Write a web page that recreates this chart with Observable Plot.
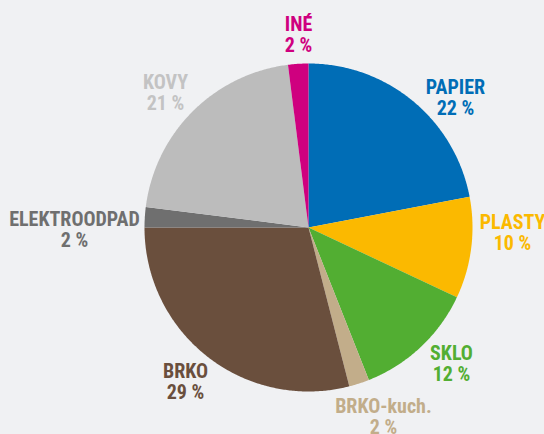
<!DOCTYPE html>
<html>
<head>
<meta charset="utf-8">
<script src="https://cdn.jsdelivr.net/npm/d3@7"></script>
<script src="https://cdn.jsdelivr.net/npm/@observablehq/plot@0.6"></script>
<style>
  html, body { margin: 0; padding: 0; background: #f0f1f3; }
  #chart { width: 544px; height: 434px; overflow: hidden; }
</style>
</head>
<body>
<div id="chart"></div>
<script>
// Data
const categories = ["PAPIER", "PLASTY", "SKLO", "BRKO-kuch.", "BRKO", "ELEKTROODPAD", "KOVY", "INÉ"];
const shares = [22, 10, 12, 2, 29, 2, 21, 2];
const percentLabels = ["22 %", "10 %", "12 %", "2 %", "29 %", "2 %", "21 %", "2 %"];

// Styles / layout
const sliceColors = ["#006db6", "#fbb900", "#52ae32", "#c2ad8a", "#6a4f3d", "#6f6f6f", "#bcbcbc", "#cf007f"];
const labelColors = ["#006db6", "#fbb900", "#52ae32", "#c2ad8a", "#6a4f3d", "#6f6f6f", "#c3c3c3", "#cf007f"];
const labelAnchors = [
  [0.896, 0.790], [1.244, -0.033], [0.872, -0.832], [0.457, -1.155],
  [-0.750, -0.942], [-1.427, -0.014], [-0.872, 0.821], [-0.061, 1.174]
];

const total = d3.sum(shares);
const slicePoints = [];
let cum = 0;
categories.forEach((c, i) => {
  const a0 = cum / total * 2 * Math.PI;
  cum += shares[i];
  const a1 = cum / total * 2 * Math.PI;
  slicePoints.push({cat: c, x: 0, y: 0});
  const n = Math.max(2, Math.ceil((a1 - a0) / (Math.PI / 360)));
  for (let k = 0; k <= n; k++) {
    const a = a0 + (a1 - a0) * k / n;
    slicePoints.push({cat: c, x: Math.sin(a), y: Math.cos(a)});
  }
});

const labels = categories.map((c, i) => ({
  cat: c,
  text: c + "\n" + percentLabels[i],
  x: labelAnchors[i][0],
  y: labelAnchors[i][1],
  color: labelColors[i]
}));

const plot = Plot.plot({
  width: 544,
  height: 434,
  marginLeft: 144,
  marginRight: 72,
  marginTop: 63,
  marginBottom: 43,
  style: {background: "#f0f1f3", overflow: "visible"},
  x: {domain: [-1, 1], axis: null},
  y: {domain: [-1, 1], axis: null},
  color: {domain: categories, range: sliceColors},
  marks: [
    Plot.line(slicePoints, {x: "x", y: "y", z: "cat", fill: "cat", stroke: "none", curve: "linear-closed"}),
    Plot.text(labels, {
      x: "x", y: "y", text: "text", fill: "color",
      fontSize: 20, fontWeight: "bold", lineHeight: 1.03,
      fontFamily: "'Liberation Sans Narrow', 'Roboto Condensed', 'DejaVu Sans Condensed', Roboto, sans-serif"
    })
  ]
});
document.getElementById("chart").appendChild(plot);
</script>
</body>
</html>
